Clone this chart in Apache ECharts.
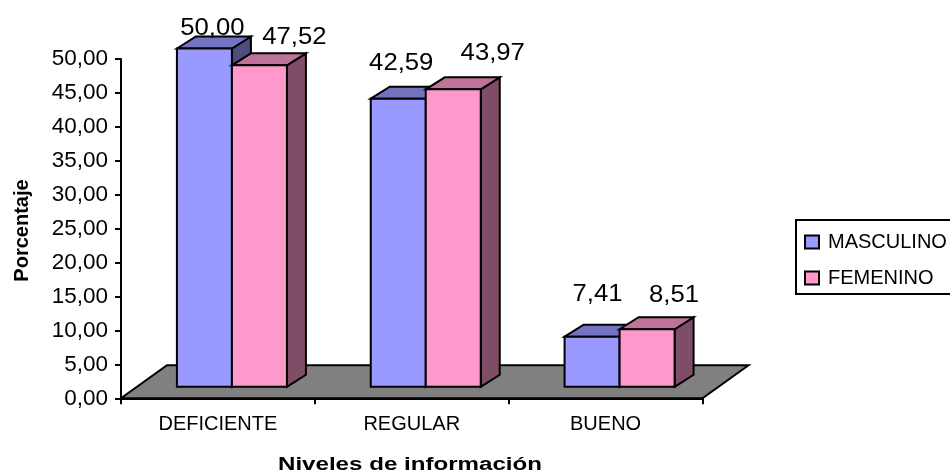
<!DOCTYPE html>
<html>
<head>
<meta charset="utf-8">
<style>html,body{margin:0;padding:0;background:#fff}#chart{width:950px;height:473px}</style>
<script src="https://cdn.jsdelivr.net/npm/echarts@6/dist/echarts.min.js"></script>
</head>
<body>
<div id="chart"></div>
<script>
// Niveles de información por sexo
const categories = ['DEFICIENTE', 'REGULAR', 'BUENO'];
const masculino = [50.00, 42.59, 7.41];
const femenino = [47.52, 43.97, 8.51];
const yTicks = { min: 0, max: 50, interval: 5 };

// Label offsets from the centre of a bar's front top edge: [dx, dy]
const masculinoLabelOffset = [[8, -20], [3, -35], [5.5, -42]];
const femeninoLabelOffset = [[35, -28], [39.5, -36], [27, -34]];

const FONT = '"Liberation Sans", Arial, sans-serif';
const BAR_W = 55, SHIFT_X = 14, FRONT_DY = 11.5, PLANE_SCALE = 0.997;
const DEPTH_X = 19, DEPTH_Y = 12;
const FLOOR_DX = 46, FLOOR_DY = 33;
const fmt = v => v.toFixed(2).replace('.', ',');

function poly(points, fill) {
  return {
    type: 'polygon',
    shape: { points },
    style: { fill, stroke: '#000', lineWidth: 2, lineJoin: 'miter' }
  };
}

// One 3D column: front face, top and side, plus its value label
function boxSeries(name, values, offsets, slot, colors) {
  return {
    type: 'custom',
    name,
    z: 3,
    clip: false,
    itemStyle: { color: colors.front },
    encode: { x: 0, y: 1 },
    data: values.map((v, i) => [i, v]),
    renderItem(params, api) {
      const i = api.value(0), v = api.value(1);
      const base = api.coord([i, 0]);
      const centre = base[0] + SHIFT_X;
      const x0 = centre + (slot - 1) * BAR_W, x1 = x0 + BAR_W;
      const yb = base[1] - FRONT_DY;
      const yt = yb - (base[1] - api.coord([i, v])[1]) * PLANE_SCALE;
      const off = offsets[i];
      return {
        type: 'group',
        children: [
          poly([[x1, yb], [x1 + DEPTH_X, yb - DEPTH_Y], [x1 + DEPTH_X, yt - DEPTH_Y], [x1, yt]], colors.side),
          poly([[x0, yt], [x0 + DEPTH_X, yt - DEPTH_Y], [x1 + DEPTH_X, yt - DEPTH_Y], [x1, yt]], colors.top),
          poly([[x0, yb], [x1, yb], [x1, yt], [x0, yt]], colors.front),
          {
            type: 'text',
            x: (x0 + x1) / 2 + off[0],
            y: yt + off[1],
            scaleX: 1.07,
            z2: 10,
            style: {
              x: 0, y: 0, text: fmt(v), align: 'center', verticalAlign: 'middle',
              fill: '#000', font: '24px ' + FONT
            }
          }
        ]
      };
    }
  };
}

const option = {
  animation: false,
  backgroundColor: '#fff',
  grid: { left: 121, right: 247.5, top: 59, bottom: 74.7, containLabel: false },
  xAxis: {
    type: 'category',
    data: categories,
    axisLine: { lineStyle: { color: '#000', width: 2 } },
    axisTick: { show: true, length: 6, lineStyle: { color: '#000', width: 2 } },
    axisLabel: { color: '#000', fontFamily: FONT, fontSize: 20, margin: 16 }
  },
  yAxis: {
    type: 'value',
    min: yTicks.min,
    max: yTicks.max,
    interval: yTicks.interval,
    splitLine: { show: false },
    axisLine: { show: true, lineStyle: { color: '#000', width: 2 } },
    axisTick: { show: true, length: 6, lineStyle: { color: '#000', width: 2 } },
    axisLabel: { color: '#000', fontFamily: FONT, fontSize: 22.5, margin: 13, formatter: fmt }
  },
  legend: {
    orient: 'vertical',
    left: 796,
    top: 220,
    padding: [12, 30, 6, 8],
    itemGap: 16,
    itemWidth: 14,
    itemHeight: 13,
    icon: 'rect',
    selectedMode: false,
    borderColor: '#000',
    borderWidth: 2,
    borderRadius: 0,
    itemStyle: { borderColor: '#000', borderWidth: 2 },
    textStyle: { color: '#000', fontFamily: FONT, fontSize: 20, padding: [0, 0, 0, 4] },
    data: ['MASCULINO', 'FEMENINO']
  },
  graphic: [
    {
      type: 'text', x: 410, y: 465, scaleX: 1.34,
      style: { x: 0, y: 0, text: 'Niveles de información', align: 'center', verticalAlign: 'middle',
        fill: '#000', font: 'bold 18px ' + FONT }
    },
    {
      type: 'text', x: 22, y: 230.5, rotation: Math.PI / 2,
      style: { x: 0, y: 0, text: 'Porcentaje', align: 'center', verticalAlign: 'middle',
        fill: '#000', font: 'bold 20px ' + FONT }
    }
  ],
  series: [
    {
      // Grey floor of the 3D plot, spanning the whole category axis
      type: 'custom',
      z: 1,
      clip: false,
      silent: true,
      encode: { x: 0, y: 1 },
      data: [[0, 0]],
      renderItem(params, api) {
        const band = api.size([1, 0])[0];
        const a = api.coord([0, 0]);
        const b = api.coord([categories.length - 1, 0]);
        const xl = a[0] - band / 2, xr = b[0] + band / 2, y = a[1];
        return poly([[xl, y], [xr, y], [xr + FLOOR_DX, y - FLOOR_DY], [xl + FLOOR_DX, y - FLOOR_DY]], '#808080');
      }
    },
    boxSeries('MASCULINO', masculino, masculinoLabelOffset, 0, { front: '#9999FF', top: '#7373BF', side: '#4D4D80' }),
    boxSeries('FEMENINO', femenino, femeninoLabelOffset, 1, { front: '#FF99CC', top: '#BF7399', side: '#804D66' })
  ]
};

const chart = echarts.init(document.getElementById('chart'), null, { renderer: 'canvas' });
chart.setOption(option);
</script>
</body>
</html>
